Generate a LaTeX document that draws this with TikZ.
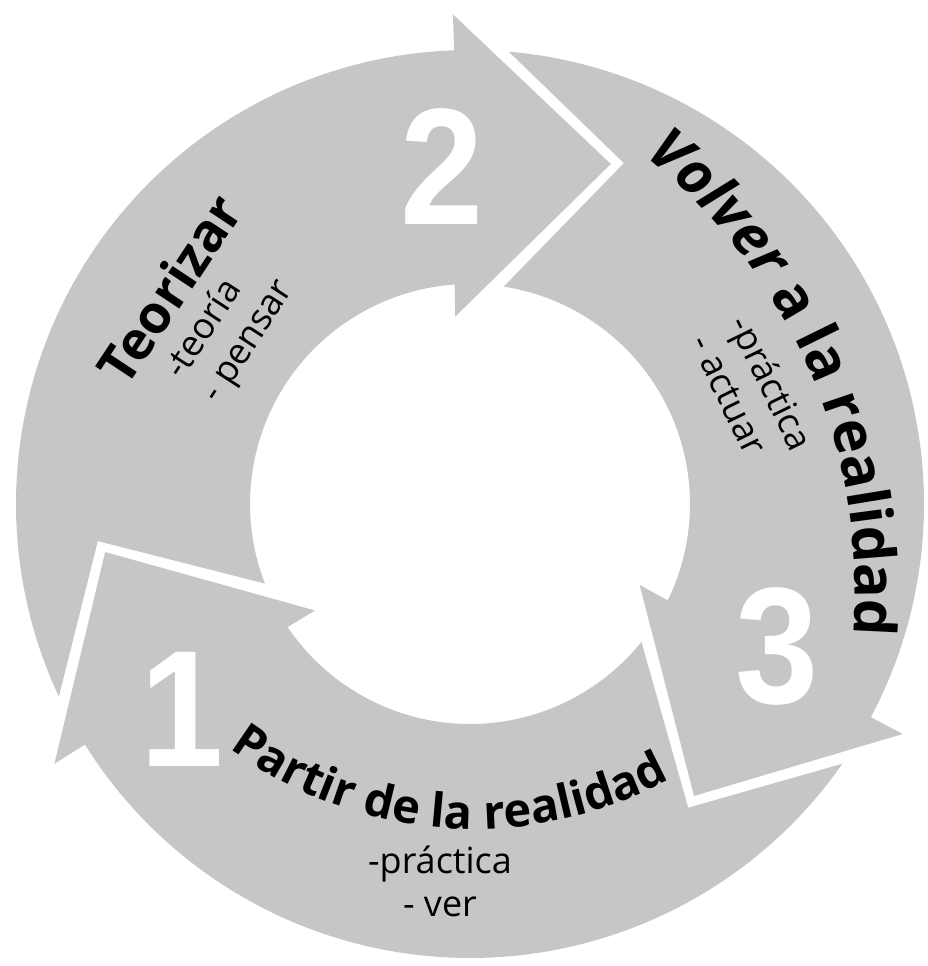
\documentclass[tikz,border=0pt]{standalone}
\usepackage{fontspec}
\setmainfont{Open Sans}
\newfontfamily\numfamily{Liberation Sans}
\usepackage{tikz}
\usetikzlibrary{decorations.text}

\definecolor{ringgray}{HTML}{C6C6C6}
\newcommand{\headfont}{\fontsize{53}{53}\selectfont\bfseries}
\newcommand{\partirfont}{\fontsize{47}{47}\selectfont\bfseries}
\newcommand{\volverfont}{\fontsize{58}{58}\selectfont\bfseries}
\newcommand{\subfont}{\fontsize{36}{43}\selectfont}

\tikzset{
  num/.style={text=white, font=\numfamily\fontsize{166}{166}\selectfont\bfseries, xscale=0.9, inner sep=0pt},
  head/.style={font=\headfont, inner sep=0pt},
  sub/.style={font=\subfont, align=left, inner sep=0pt}
}

\begin{document}
\begin{tikzpicture}[x=1pt, y=1pt]
\useasboundingbox (-470,-462) rectangle (457,504);
% three arrows of the ring, heads at 92, -28 and 212 degrees
\foreach \a in {92,-28,212}
     		\fill[ringgray] ({\a+113.1}:454) arc[start angle=\a+113.1, end angle=\a, radius=454]
			-- (\a:490) -- ({\a-24.5}:368) -- ({\a+2.5}:188) -- ({\a+2}:220)
			arc[start angle=\a+2, end angle=\a+109.2, radius=220] -- ({\a+93.7}:374) -- cycle;
% numbers
\node[num] (n1) at (-288,-205) {1};
\node[num] (n2) at (-28,337) {2};
\node[num] (n3) at (307,-142) {3};
% headings
\node[head, rotate=56.5] (teorizar) at (-301,215) {Teorizar};
\path[shift={(-168,-86)}, decorate, decoration={text along path, text align=center,
      text={|\volverfont\itshape|Volver |\volverfont|a la realidad}}]
      (63.5:553) arc[start angle=63.5, end angle=-16.5, radius=553];
\path[shift={(4,87)}, decorate, decoration={text along path, text align=center,
      text={|\partirfont|Partir de la realidad}}]
      (221:412) arc[start angle=221, end angle=311, radius=412];
% sub lines
\node[sub, rotate=57] (teoria) at (-240,174) {-teoría\\- pensar};
\node[sub, rotate=-64] (actuar) at (283,112) {-práctica\\- actuar};
\node[sub, align=center] (ver) at (-30,-377) {-práctica\\- ver};
\end{tikzpicture}
\end{document}
